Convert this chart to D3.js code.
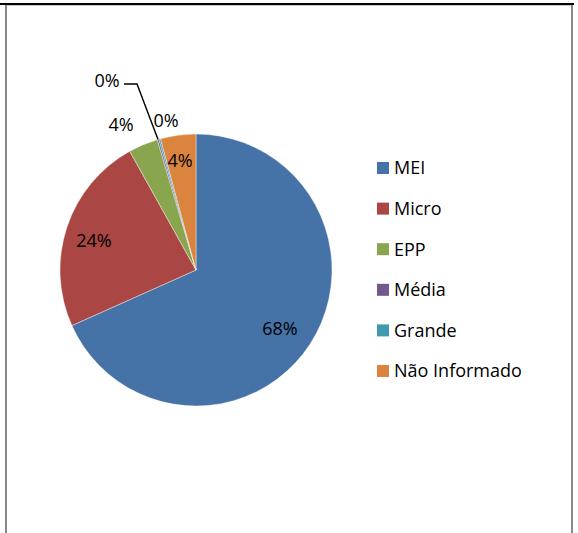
<!DOCTYPE html>
<html>
<head>
<meta charset="utf-8">
<script src="https://cdn.jsdelivr.net/npm/d3@7"></script>
<style>
  body { margin: 0; background: #fff; }
  svg { display: block; font-family: "Open Sans", sans-serif; }
</style>
</head>
<body>
<svg width="578" height="533"></svg>
<script>
const categories = ['MEI', 'Micro', 'EPP', 'Média', 'Grande', 'Não Informado'];
const values = [68.3, 23.6, 3.5, 0.2, 0.2, 4.2];
const valueLabels = ['68%', '24%', '4%', '0%', '0%', '4%'];
const colors = ['#4572A7', '#AA4643', '#89A54E', '#71588F', '#4198AF', '#DB843D'];

const svg = d3.select('svg');

// ---- Moldura
svg.append('line')
    .attr('x1', 0).attr('x2', 574).attr('y1', 4).attr('y2', 4)
    .attr('stroke', '#000').attr('stroke-width', 2);
svg.append('line')
    .attr('x1', 7).attr('x2', 571).attr('y1', 5.5).attr('y2', 5.5)
    .attr('stroke', '#ccc').attr('stroke-width', 1);
svg.append('line')
    .attr('x1', 6).attr('x2', 6).attr('y1', 5).attr('y2', 533)
    .attr('stroke', '#888').attr('stroke-width', 2);
svg.append('line')
    .attr('x1', 572).attr('x2', 572).attr('y1', 5).attr('y2', 533)
    .attr('stroke', '#888').attr('stroke-width', 2);

// ---- Pizza
const cx = 196, cy = 270, radius = 136;
const data = categories.map((c, i) => ({ cat: c, value: values[i], label: valueLabels[i] }));

const color = d3.scaleOrdinal().domain(categories).range(colors);
const pie = d3.pie().sort(null).value(d => d.value);
const arc = d3.arc().innerRadius(0).outerRadius(radius);
const arcs = pie(data);

const g = svg.append('g').attr('transform', `translate(${cx}, ${cy})`);

g.selectAll('path')
    .data(arcs)
    .join('path')
    .attr('d', arc)
    .attr('fill', d => color(d.data.cat))
    .attr('stroke', '#fff')
    .attr('stroke-width', 0.4);

// ---- Rótulos (posição do texto em relação ao centro)
const labelPos = {
    'MEI': [84, 59],
    'Micro': [-102, -29],
    'EPP': [-75, -145],
    'Média': [-89, -189],
    'Grande': [-30, -149],
    'Não Informado': [-16, -109]
};

arcs.forEach(a => {
    const [x, y] = labelPos[a.data.cat];
    if (a.data.cat === 'Média') {
        // linha de chamada até a borda da fatia
        const ang = (a.startAngle + a.endAngle) / 2;
        const ex = Math.sin(ang) * radius, ey = -Math.cos(ang) * radius;
        g.append('polyline')
            .attr('points', `${x + 17},${y + 3} ${x + 30},${y + 3} ${ex},${ey}`)
            .attr('fill', 'none')
            .attr('stroke', '#000')
            .attr('stroke-width', 1.4);
    }
    g.append('text')
        .attr('x', x)
        .attr('y', y)
        .attr('dy', '0.35em')
        .attr('text-anchor', 'middle')
        .style('font-size', '18px')
        .style('fill', '#000')
        .text(a.data.label);
});

// ---- Legenda
const legend = svg.append('g').attr('transform', 'translate(377, 168)');
const rows = legend.selectAll('g')
    .data(categories)
    .join('g')
    .attr('transform', (d, i) => `translate(0, ${i * 40.6})`);

rows.append('rect')
    .attr('x', 0)
    .attr('y', -6)
    .attr('width', 12)
    .attr('height', 12)
    .attr('fill', d => color(d));

rows.append('text')
    .attr('x', 17)
    .attr('y', 0)
    .attr('dy', '0.35em')
    .style('font-size', '18px')
    .style('fill', '#000')
    .text(d => d);
</script>
</body>
</html>
